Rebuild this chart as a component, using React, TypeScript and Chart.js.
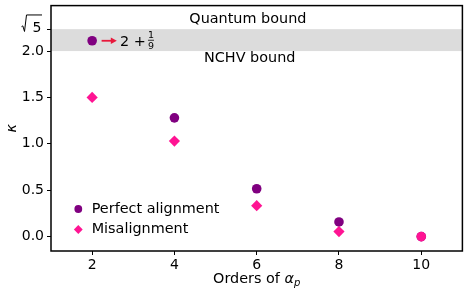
import React, { useEffect, useRef } from 'react';
import { Chart, registerables } from 'chart.js';
Chart.register(...registerables);

// ---- data ----
const orders = [2, 4, 6, 8, 10];
const perfectAlignment = [2.111, 1.28, 0.516, 0.158, 0.0];
const misalignment = [1.5, 1.03, 0.333, 0.054, 0.0];
const misalignmentMarkers = ['rectRot', 'rectRot', 'rectRot', 'rectRot', 'circle'];
const seriesLabels = ['Perfect alignment', 'Misalignment'];
const xTickValues = [2, 4, 6, 8, 10];
const quantumBound = Math.sqrt(5);
const nchvBound = 2.0;
const yTickValues = [0, 0.5, 1.0, 1.5, 2.0, quantumBound];
const boundLabels = ['Quantum bound', 'NCHV bound'];

// ---- styles / annotation positions ----
const FAMILY = '"DejaVu Sans", sans-serif';
const PURPLE = '#800080';
const PINK = '#ff1493';
const RED = '#e8193c';
const BAND = '#dcdcdc';
const quantumLabelPos = { x: 5.785, y: 2.34 };
const nchvLabelPos = { x: 5.83, y: 1.92 };
const arrowFrom = 2.23;
const arrowTo = 2.6;
const annotTextX = 2.68;

const overlay = {
  id: 'overlay',
  beforeDatasetsDraw(chart: any) {
    const { ctx, chartArea: a, scales } = chart;
    const y = scales.y;
    const yt = y.getPixelForValue(quantumBound);
    const yb = y.getPixelForValue(nchvBound);
    ctx.save();
    ctx.fillStyle = BAND;
    ctx.fillRect(a.left, yt, a.right - a.left, yb - yt);
    ctx.restore();
  },
  afterDraw(chart: any) {
    const { ctx, chartArea: a, scales } = chart;
    const x = scales.x, y = scales.y;
    ctx.save();
    // frame
    ctx.strokeStyle = '#000';
    ctx.lineWidth = 1.5;
    ctx.strokeRect(a.left, a.top, a.right - a.left, a.bottom - a.top);

    // bound labels
    ctx.fillStyle = '#000';
    ctx.font = `14.4px ${FAMILY}`;
    ctx.textAlign = 'center';
    ctx.textBaseline = 'middle';
    ctx.fillText(boundLabels[0], x.getPixelForValue(quantumLabelPos.x), y.getPixelForValue(quantumLabelPos.y));
    ctx.fillText(boundLabels[1], x.getPixelForValue(nchvLabelPos.x), y.getPixelForValue(nchvLabelPos.y));

    // arrow
    const ay = y.getPixelForValue(perfectAlignment[0]);
    const ax0 = x.getPixelForValue(arrowFrom);
    const ax1 = x.getPixelForValue(arrowTo);
    ctx.strokeStyle = RED;
    ctx.fillStyle = RED;
    ctx.lineWidth = 1.8;
    ctx.beginPath();
    ctx.moveTo(ax0, ay);
    ctx.lineTo(ax1 - 4, ay);
    ctx.stroke();
    ctx.beginPath();
    ctx.moveTo(ax1, ay);
    ctx.lineTo(ax1 - 6, ay - 3.2);
    ctx.lineTo(ax1 - 6, ay + 3.2);
    ctx.closePath();
    ctx.fill();

    // "2 + 1/9"
    const tx = x.getPixelForValue(annotTextX);
    ctx.fillStyle = '#000';
    ctx.textAlign = 'left';
    ctx.textBaseline = 'alphabetic';
    ctx.font = `14.4px ${FAMILY}`;
    const main = '2 + ';
    ctx.fillText(main, tx, ay + 5);
    const mw = ctx.measureText(main).width;
    ctx.font = `9.5px ${FAMILY}`;
    ctx.textAlign = 'center';
    const fx = tx + mw + 0.5;
    ctx.fillText('1', fx, ay - 2.3);
    ctx.fillText('9', fx, ay + 8.3);
    ctx.lineWidth = 0.8;
    ctx.strokeStyle = '#000';
    ctx.beginPath();
    ctx.moveTo(fx - 3, ay - 0.5);
    ctx.lineTo(fx + 3, ay - 0.5);
    ctx.stroke();

    // sqrt(5) tick label
    const yp = y.getPixelForValue(quantumBound);
    ctx.font = `14px ${FAMILY}`;
    ctx.textAlign = 'right';
    ctx.textBaseline = 'middle';
    const R = 41.5;
    ctx.fillText('5', R, yp - 1.2);
    ctx.lineWidth = 1;
    ctx.beginPath();
    ctx.moveTo(21.5, yp - 2.5);
    ctx.lineTo(22.8, yp - 3.3);
    ctx.lineTo(24.5, yp + 2.3);
    ctx.lineTo(26.5, yp - 14.2);
    ctx.lineTo(42, yp - 14.2);
    ctx.stroke();

    // legend
    const lx = 78.3;
    const ly0 = 209, ly1 = 229.5;
    ctx.fillStyle = PURPLE;
    ctx.beginPath();
    ctx.arc(lx, ly0, 3.9, 0, Math.PI * 2);
    ctx.fill();
    ctx.fillStyle = PINK;
    ctx.beginPath();
    const d = 4.4;
    ctx.moveTo(lx - d, ly1);
    ctx.lineTo(lx, ly1 - d);
    ctx.lineTo(lx + d, ly1);
    ctx.lineTo(lx, ly1 + d);
    ctx.closePath();
    ctx.fill();
    ctx.fillStyle = '#000';
    ctx.font = `14.4px ${FAMILY}`;
    ctx.textAlign = 'left';
    ctx.textBaseline = 'middle';
    ctx.fillText(seriesLabels[0], 91.7, ly0);
    ctx.fillText(seriesLabels[1], 91.7, ly1);

    // x title "Orders of α_p"
    const p1 = 'Orders of ';
    ctx.font = `14.4px ${FAMILY}`;
    const w1 = ctx.measureText(p1).width;
    ctx.font = `italic 14.4px ${FAMILY}`;
    const w2 = ctx.measureText('α').width;
    ctx.font = `italic 10px ${FAMILY}`;
    const w3 = ctx.measureText('p').width;
    const total = w1 + w2 + w3;
    const cx = (a.left + a.right) / 2;
    let sx = cx - total / 2;
    const by = 283.3;
    ctx.textBaseline = 'alphabetic';
    ctx.font = `14.4px ${FAMILY}`;
    ctx.fillText(p1, sx, by);
    sx += w1;
    ctx.font = `italic 14.4px ${FAMILY}`;
    ctx.fillText('α', sx, by);
    sx += w2;
    ctx.font = `italic 10px ${FAMILY}`;
    ctx.fillText('p', sx, by + 2.5);

    // y title κ
    ctx.save();
    ctx.translate(12.5, (a.top + a.bottom) / 2);
    ctx.rotate(-Math.PI / 2);
    ctx.font = `italic 14.4px ${FAMILY}`;
    ctx.textAlign = 'center';
    ctx.textBaseline = 'middle';
    ctx.fillText('κ', 0, 0);
    ctx.restore();

    ctx.restore();
  },
};

export default function App() {
  const ref = useRef<HTMLCanvasElement>(null);
  useEffect(() => {
    const chart = new Chart(ref.current as HTMLCanvasElement, {
      type: 'scatter',
      data: {
        datasets: [
          {
            label: seriesLabels[0],
            data: orders.map((o, i) => ({ x: o, y: perfectAlignment[i] })),
            backgroundColor: PURPLE,
            borderColor: PURPLE,
            pointRadius: 4.8,
            pointBorderWidth: 0,
            pointStyle: 'circle',
            order: 1,
          },
          {
            label: seriesLabels[1],
            data: orders.map((o, i) => ({ x: o, y: misalignment[i] })),
            backgroundColor: PINK,
            borderColor: PINK,
            pointRadius: [5.6, 5.6, 5.6, 5.6, 4.8],
            pointBorderWidth: 0,
            pointStyle: misalignmentMarkers as any,
            order: 0,
          },
        ],
      },
      options: {
        animation: false,
        responsive: false,
        events: [],
        layout: { padding: { left: 0, right: 5, top: 5, bottom: 0 } },
        plugins: { legend: { display: false }, tooltip: { enabled: false } },
        scales: {
          x: {
            type: 'linear',
            min: 1,
            max: 11,
            afterBuildTicks: (s: any) => {
              s.ticks = xTickValues.map((v) => ({ value: v }));
            },
            afterFit: (s: any) => {
              s.height = 45;
              s.paddingLeft = 0;
              s.paddingRight = 0;
            },
            grid: { display: true, drawOnChartArea: false, drawTicks: true, tickLength: 4, color: '#000', lineWidth: 1 },
            border: { display: false },
            ticks: {
              color: '#000',
              font: { family: FAMILY, size: 14 },
              padding: 2,
              maxRotation: 0,
              autoSkip: false,
              callback: (v: any) => String(v),
            },
          },
          y: {
            type: 'linear',
            min: -0.155,
            max: 2.49,
            afterBuildTicks: (s: any) => {
              s.ticks = yTickValues.map((v) => ({ value: v }));
            },
            afterFit: (s: any) => {
              s.width = 51;
              s.paddingTop = 0;
              s.paddingBottom = 0;
            },
            grid: { display: true, drawOnChartArea: false, drawTicks: true, tickLength: 4, color: '#000', lineWidth: 1 },
            border: { display: false },
            ticks: {
              color: '#000',
              font: { family: FAMILY, size: 14 },
              padding: 3,
              autoSkip: false,
              callback: (v: any) => (Math.abs(v - quantumBound) < 1e-9 ? '' : Number(v).toFixed(1)),
            },
          },
        },
      },
      plugins: [overlay],
    });
    return () => chart.destroy();
  }, []);
  return (
    <div style={{ position: 'fixed', left: 0, top: 0 }}>
      <canvas ref={ref} width={468} height={296} style={{ width: 468, height: 296, display: 'block' }} />
    </div>
  );
}
